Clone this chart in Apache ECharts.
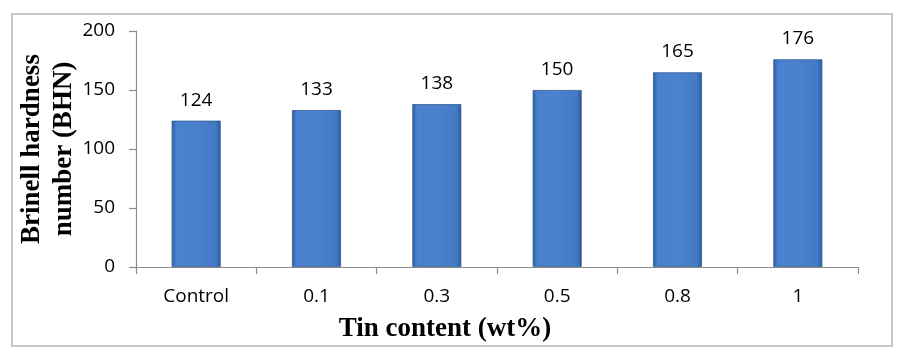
<!DOCTYPE html>
<html>
<head>
<meta charset="utf-8">
<script src="https://cdn.jsdelivr.net/npm/echarts@6/dist/echarts.min.js"></script>
<style>
html,body{margin:0;padding:0;background:#fff;}
#c{width:900px;height:356px;}
</style>
</head>
<body>
<div id="c"></div>
<script>
const categories = ['Control', '0.1', '0.3', '0.5', '0.8', '1'];
const hardness = [124, 133, 138, 150, 165, 176];
const yTicks = [0, 50, 100, 150, 200];

const chart = echarts.init(document.getElementById('c'), null, {renderer: 'canvas'});
const barColor = new echarts.graphic.LinearGradient(0, 0, 1, 0, [
  {offset: 0, color: '#2f5f9f'},
  {offset: 0.1, color: '#4a82cf'},
  {offset: 0.5, color: '#4b81cd'},
  {offset: 0.9, color: '#4479c5'},
  {offset: 1, color: '#2c5a98'}
]);
const serif = '"Liberation Serif", "Times New Roman", serif';
chart.setOption({
  animation: false,
  backgroundColor: '#ffffff',
  grid: {left: 136, right: 42, top: 31, bottom: 89, containLabel: false},
  xAxis: {
    type: 'category',
    data: categories,
    axisLine: {lineStyle: {color: '#8c8c8c', width: 1.2}},
    axisTick: {show: true, length: 7, lineStyle: {color: '#8c8c8c', width: 1.2}},
    axisLabel: {fontFamily: 'Open Sans', fontSize: 19, color: '#000', margin: 20}
  },
  yAxis: {
    type: 'value',
    min: yTicks[0], max: yTicks[yTicks.length - 1], interval: 50,
    axisLine: {show: true, lineStyle: {color: '#8c8c8c', width: 1.2}},
    axisTick: {show: true, length: 7, lineStyle: {color: '#8c8c8c', width: 1.2}},
    splitLine: {show: false},
    axisLabel: {fontFamily: 'Open Sans', fontSize: 19, color: '#000', margin: 21}
  },
  series: [{
    type: 'bar',
    data: hardness,
    barWidth: 49,
    itemStyle: {color: barColor, borderColor: '#2e5a96', borderWidth: 0.8},
    label: {show: true, position: 'top', distance: 11, fontFamily: 'Open Sans', fontSize: 19, color: '#000'}
  }],
  graphic: [
    {type: 'rect', shape: {x: 12, y: 14, width: 880, height: 332},
     style: {fill: 'none', stroke: '#b4b4b4', lineWidth: 1.5}, silent: true},
    {type: 'text', x: 445, y: 329,
     style: {text: 'Tin content (wt%)', fontFamily: serif, fontWeight: 'bold', fontSize: 27,
             fill: '#000', align: 'center', verticalAlign: 'middle'}},
    {type: 'text', x: 48, y: 149, rotation: Math.PI / 2,
     style: {text: 'Brinell hardness\nnumber (BHN)', fontFamily: serif, fontWeight: 'bold', fontSize: 27,
             lineHeight: 32, fill: '#000', align: 'center', verticalAlign: 'middle'}}
  ]
});
</script>
</body>
</html>
